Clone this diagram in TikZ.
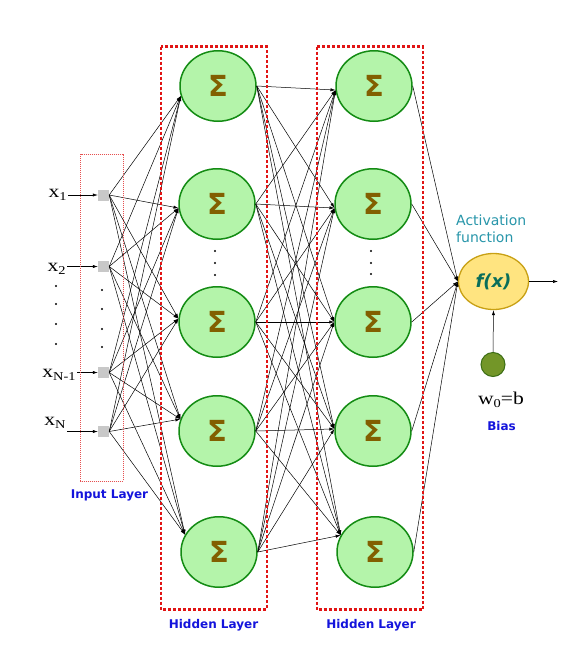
\documentclass[tikz,border=0pt]{standalone}
\usepackage{fontspec}
\usetikzlibrary{arrows.meta,shapes.geometric}
\newfontfamily\dvs{DejaVu Sans}
\newfontfamily\lserif{Liberation Serif}
\newcommand\lowsub[1]{\raisebox{-3.5pt}{\fontsize{12}{12}\selectfont #1}}
\definecolor{nodefill}{RGB}{180,244,170}
\definecolor{nodedraw}{RGB}{20,140,20}
\definecolor{sigmacol}{RGB}{130,95,0}
\definecolor{outfill}{RGB}{255,228,128}
\definecolor{outdraw}{RGB}{200,160,20}
\definecolor{biasfill}{RGB}{115,150,40}
\definecolor{biasdraw}{RGB}{60,110,20}
\definecolor{boxred}{RGB}{225,20,20}
\definecolor{inboxred}{RGB}{230,80,80}
\definecolor{labblue}{RGB}{20,20,220}
\definecolor{tealtxt}{RGB}{40,150,170}
\definecolor{fxcol}{RGB}{10,110,90}
\definecolor{ingray}{RGB}{200,200,200}
\begin{document}
\begin{tikzpicture}[x=1pt,y=-1pt,
  sumnode/.style={ellipse,minimum width=76pt,minimum height=70.5pt,inner sep=0pt,
    fill=nodefill,draw=nodedraw,line width=1.5pt,
    font=\dvs\bfseries\fontsize{29}{29}\selectfont,text=sigmacol},
  insq/.style={rectangle,minimum size=11pt,inner sep=0pt,fill=ingray},
  inlab/.style={anchor=base east,inner sep=1pt,xscale=1.2,font=\lserif\fontsize{18}{18}\selectfont},
  conn/.style={line width=0.5pt,-{Latex[length=5pt,width=3.2pt]}},
  layerlab/.style={font=\dvs\bfseries\fontsize{12}{12}\selectfont,text=labblue},
  hbox/.style={draw=boxred,line width=2.2pt,dash pattern=on 3pt off 2pt},
  dotm/.style={fill=black,circle,inner sep=0pt,minimum size=2.2pt}
]
\useasboundingbox (0,0) rectangle (588,656);
\fill[white] (0,0) rectangle (588,656);

% input squares
\node[insq] (in1) at (103.5,195) {};
\node[insq] (in2) at (103.5,266.5) {};
\node[insq] (in3) at (103.5,372.5) {};
\node[insq] (in4) at (103.5,431.5) {};

% input labels
\node[inlab] (lab1) at (68,197) {x\lowsub{1}};
\node[inlab] (lab2) at (67,271) {x\lowsub{2}};
\node[inlab] (lab3) at (77,377) {x\lowsub{N-1}};
\node[inlab] (lab4) at (67,425) {x\lowsub{N}};

% dots
\foreach \y [count=\k] in {286,304,324,344} \node[dotm] (dl\k) at (56,\y) {};
\foreach \y [count=\k] in {290,309,329,347} \node[dotm] (dr\k) at (102,\y) {};
\foreach \y [count=\k] in {251,263,275} \node[dotm] (da\k) at (215,\y) {};
\foreach \y [count=\k] in {251,263,274} \node[dotm] (db\k) at (371,\y) {};

% hidden layer nodes
\node[sumnode] (ha1) at (218,86) {Σ};
\node[sumnode] (ha2) at (217,204) {Σ};
\node[sumnode] (ha3) at (217,322) {Σ};
\node[sumnode] (ha4) at (217,431) {Σ};
\node[sumnode] (ha5) at (219,552) {Σ};
\node[sumnode] (hb1) at (374,86) {Σ};
\node[sumnode] (hb2) at (373,204) {Σ};
\node[sumnode] (hb3) at (373,322) {Σ};
\node[sumnode] (hb4) at (373,431) {Σ};
\node[sumnode] (hb5) at (375,552) {Σ};

% output and bias
\node[ellipse,minimum width=70pt,minimum height=56pt,inner sep=0pt,fill=outfill,draw=outdraw,line width=1.3pt,
  font=\dvs\bfseries\itshape\fontsize{18}{18}\selectfont,text=fxcol] (out) at (493.5,281.5) {f(x)};
\node[circle,minimum size=24pt,inner sep=0pt,fill=biasfill,draw=biasdraw,line width=1pt] (bias) at (493,364.5) {};
\coordinate (outend) at (558,281.5);

% texts
\node[anchor=west,align=left,inner sep=0pt,text=tealtxt,font=\dvs\fontsize{14}{17}\selectfont] (act) at (456,228.5) {Activation\\function};
\node[inner sep=0pt,anchor=base,xscale=1.2,font=\lserif\fontsize{18}{18}\selectfont] (wb) at (501,404) {w\lowsub{0}=b};
\node[layerlab] (biaslab) at (501.5,426) {Bias};
\node[layerlab] (inlabel) at (109.5,495) {Input Layer};
\node[layerlab] (hlab1) at (213.5,625.5) {Hidden Layer};
\node[layerlab] (hlab2) at (371,625.5) {Hidden Layer};

% input arrows
\foreach \i in {1,...,4} \draw[conn] (lab\i.east |- in\i.west) -- (in\i.west);

% input -> hidden 1
\foreach \i in {1,...,4}
  \foreach \j/\a in {1/195,2/186,3/175,4/162,5/153}
    \draw[conn] (in\i.east) -- (ha\j.\a);

% hidden 1 -> hidden 2
\foreach \i in {1,...,5}
  \foreach \j/\a in {1/186,2/186,3/180,4/177,5/154}
    \draw[conn] (ha\i.east) -- (hb\j.\a);

% hidden 2 -> output
\foreach \i in {1,...,5} \draw[conn] (hb\i.east) -- (out.west);
\draw[conn] (out.east) -- (outend);
\draw[conn] (bias.north) -- (out.south);

% layer boxes
\draw[draw=inboxred,line width=0.8pt,dash pattern=on 1pt off 1pt] (80.7,154) rectangle (123,481);
\draw[hbox] (161,46.5) rectangle (266.7,609.5);
\draw[hbox] (316.7,46.5) rectangle (422.7,609.5);
\end{tikzpicture}
\end{document}
